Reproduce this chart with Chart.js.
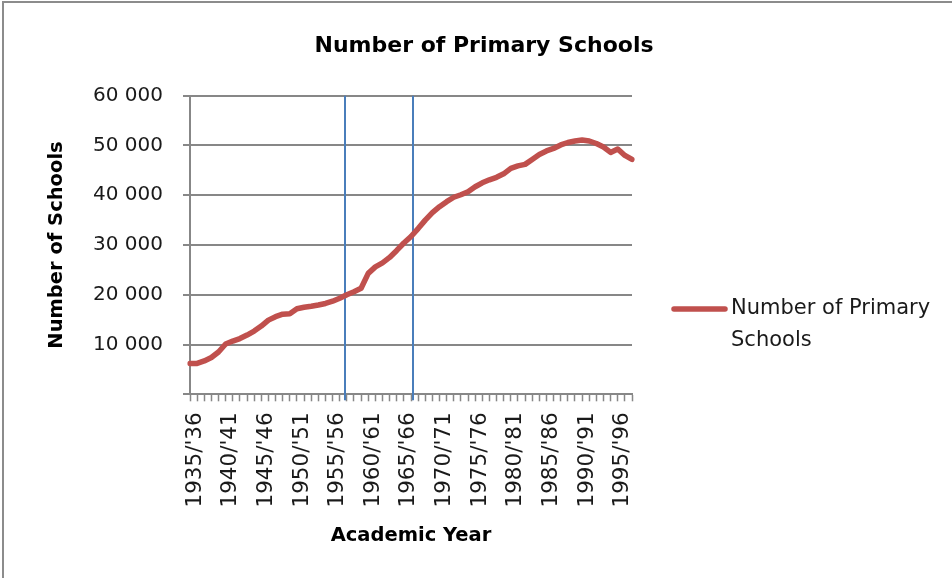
<!DOCTYPE html>
<html>
<head>
<meta charset="utf-8">
<title>Number of Primary Schools</title>
<script src="https://cdn.jsdelivr.net/npm/chart.js@4.4.1/dist/chart.umd.min.js"></script>
<style>
  html, body { margin: 0; padding: 0; background: #fff; }
</style>
</head>
<body>
<canvas id="chart" width="952" height="578"></canvas>
<script>
// academic years on the category axis (Excel "on tick marks", one per year)
var years = [
  "1935/'36", "1936/'37", "1937/'38", "1938/'39", "1939/'40",
  "1940/'41", "1941/'42", "1942/'43", "1943/'44", "1944/'45",
  "1945/'46", "1946/'47", "1947/'48", "1948/'49", "1949/'50",
  "1950/'51", "1951/'52", "1952/'53", "1953/'54", "1954/'55",
  "1955/'56", "1956/'57", "1957/'58", "1958/'59", "1959/'60",
  "1960/'61", "1961/'62", "1962/'63", "1963/'64", "1964/'65",
  "1965/'66", "1966/'67", "1967/'68", "1968/'69", "1969/'70",
  "1970/'71", "1971/'72", "1972/'73", "1973/'74", "1974/'75",
  "1975/'76", "1976/'77", "1977/'78", "1978/'79", "1979/'80",
  "1980/'81", "1981/'82", "1982/'83", "1983/'84", "1984/'85",
  "1985/'86", "1986/'87", "1987/'88", "1988/'89", "1989/'90",
  "1990/'91", "1991/'92", "1992/'93", "1993/'94", "1994/'95",
  "1995/'96", "1996/'97", "1997/'98"
];

// number of primary schools
var schools = [
  6200, 6200, 6700, 7400, 8500,
  10100, 10700, 11200, 11900, 12700,
  13700, 14900, 15600, 16100, 16200,
  17200, 17500, 17700, 17950, 18250,
  18700, 19300, 20000, 20600, 21300,
  24300, 25600, 26400, 27500, 28900,
  30400, 31700, 33300, 35000, 36500,
  37700, 38700, 39600, 40100, 40700,
  41700, 42500, 43100, 43600, 44300,
  45400, 45900, 46200, 47200, 48200,
  48900, 49400, 50100, 50600, 50900,
  51100, 50900, 50400, 49700, 48600,
  49300, 48000, 47200
];

var yTicks = [0, 10000, 20000, 30000, 40000, 50000, 60000];
var seriesName = 'Number of Primary Schools';
var legendLines = ['Number of Primary', 'Schools'];
// the two blue reference lines, as positions on the category axis
var markerPos = [21.8, 31.3];

var RED = '#c0504d';
var GRID = '#878787';

// outer chart border (only top and left fall inside the picture)
var frame = {
  id: 'frame',
  beforeDraw: function (chart) {
    var ctx = chart.ctx;
    ctx.save();
    ctx.strokeStyle = '#8c8c8c';
    ctx.lineWidth = 2;
    ctx.strokeRect(3, 2, chart.width + 20, chart.height + 20);
    ctx.restore();
  }
};

var markers = {
  id: 'markers',
  beforeDatasetsDraw: function (chart) {
    var xs = chart.scales.x, area = chart.chartArea, ctx = chart.ctx;
    ctx.save();
    ctx.strokeStyle = '#4a7ebb';
    ctx.lineWidth = 2;
    markerPos.forEach(function (p) {
      var px = Math.round(xs.getPixelForValue(p));
      ctx.beginPath();
      ctx.moveTo(px, area.top);
      ctx.lineTo(px, area.bottom + 6);
      ctx.stroke();
    });
    ctx.restore();
  }
};

// legend drawn to the right of the plot, text wrapped on two lines like Excel
var sideLegend = {
  id: 'sideLegend',
  afterDraw: function (chart) {
    var ctx = chart.ctx, area = chart.chartArea;
    var ds = chart.data.datasets[0];
    var x0 = area.right + 42, y0 = 309;
    ctx.save();
    ctx.strokeStyle = ds.borderColor;
    ctx.lineWidth = ds.borderWidth;
    ctx.lineCap = 'round';
    ctx.beginPath();
    ctx.moveTo(x0, y0);
    ctx.lineTo(x0 + 51, y0);
    ctx.stroke();
    ctx.fillStyle = '#1a1a1a';
    ctx.font = '21px "DejaVu Sans"';
    ctx.textBaseline = 'middle';
    legendLines.forEach(function (t, i) {
      ctx.fillText(t, x0 + 57, y0 + i * 32);
    });
    ctx.restore();
  }
};

var ctx = document.getElementById('chart').getContext('2d');
var chart = new Chart(ctx, {
  type: 'line',
  data: {
    labels: years,
    datasets: [{
      label: seriesName,
      data: schools,
      borderColor: RED,
      backgroundColor: RED,
      borderWidth: 5.5,
      borderCapStyle: 'round',
      borderJoinStyle: 'round',
      pointRadius: 0,
      tension: 0,
      fill: false
    }]
  },
  options: {
    responsive: false,
    animation: false,
    events: [],
    layout: { padding: { left: 16, right: 0, top: 0, bottom: 20 } },
    plugins: {
      legend: { display: false },
      tooltip: { enabled: false },
      title: {
        display: true,
        text: 'Number of Primary Schools',
        color: '#000',
        font: { family: 'DejaVu Sans', size: 22, weight: 'bold' },
        padding: { top: 32.8, bottom: 36.5 }
      }
    },
    scales: {
      x: {
        type: 'category',
        offset: false,
        grid: {
          drawOnChartArea: false,
          drawTicks: true,
          tickLength: 7,
          tickWidth: 1.5,
          tickColor: GRID
        },
        border: { display: true, color: GRID, width: 2 },
        ticks: {
          autoSkip: false,
          maxRotation: 90,
          minRotation: 90,
          padding: 11,
          labelOffset: 5,
          color: '#1a1a1a',
          font: { family: 'DejaVu Sans', size: 21.5 },
          callback: function (v, i) { return i % 5 === 0 ? years[i] : ''; }
        },
        title: {
          display: true,
          text: 'Academic Year',
          color: '#000',
          font: { family: 'DejaVu Sans', size: 19.5, weight: 'bold' },
          padding: { top: 0, bottom: 10 }
        },
        afterFit: function (s) { s.height = 163.7; }
      },
      y: {
        type: 'linear',
        min: 0,
        max: 60000,
        afterBuildTicks: function (s) { s.ticks = yTicks.map(function (v) { return { value: v }; }); },
        grid: {
          color: GRID,
          lineWidth: 2,
          tickLength: 7,
          tickColor: GRID,
          tickWidth: 2
        },
        border: { display: true, color: GRID, width: 2 },
        ticks: {
          padding: 20,
          color: '#1a1a1a',
          font: { family: 'DejaVu Sans', size: 20 },
          callback: function (v) { return v === 0 ? '' : (v / 1000) + ' 000'; }
        },
        title: {
          display: true,
          text: 'Number of Schools',
          color: '#000',
          font: { family: 'DejaVu Sans', size: 19.5, weight: 'bold' },
          padding: { top: 29.3, bottom: 0 }
        },
        afterFit: function (s) { s.width = 174; }
      },
      // empty right-hand box that keeps room for the legend
      legendSpace: {
        type: 'linear',
        position: 'right',
        display: true,
        grid: { display: false, drawTicks: false },
        border: { display: false },
        ticks: { display: false },
        afterFit: function (s) { s.width = 320; }
      }
    }
  },
  plugins: [frame, markers, sideLegend]
});
</script>
</body>
</html>
